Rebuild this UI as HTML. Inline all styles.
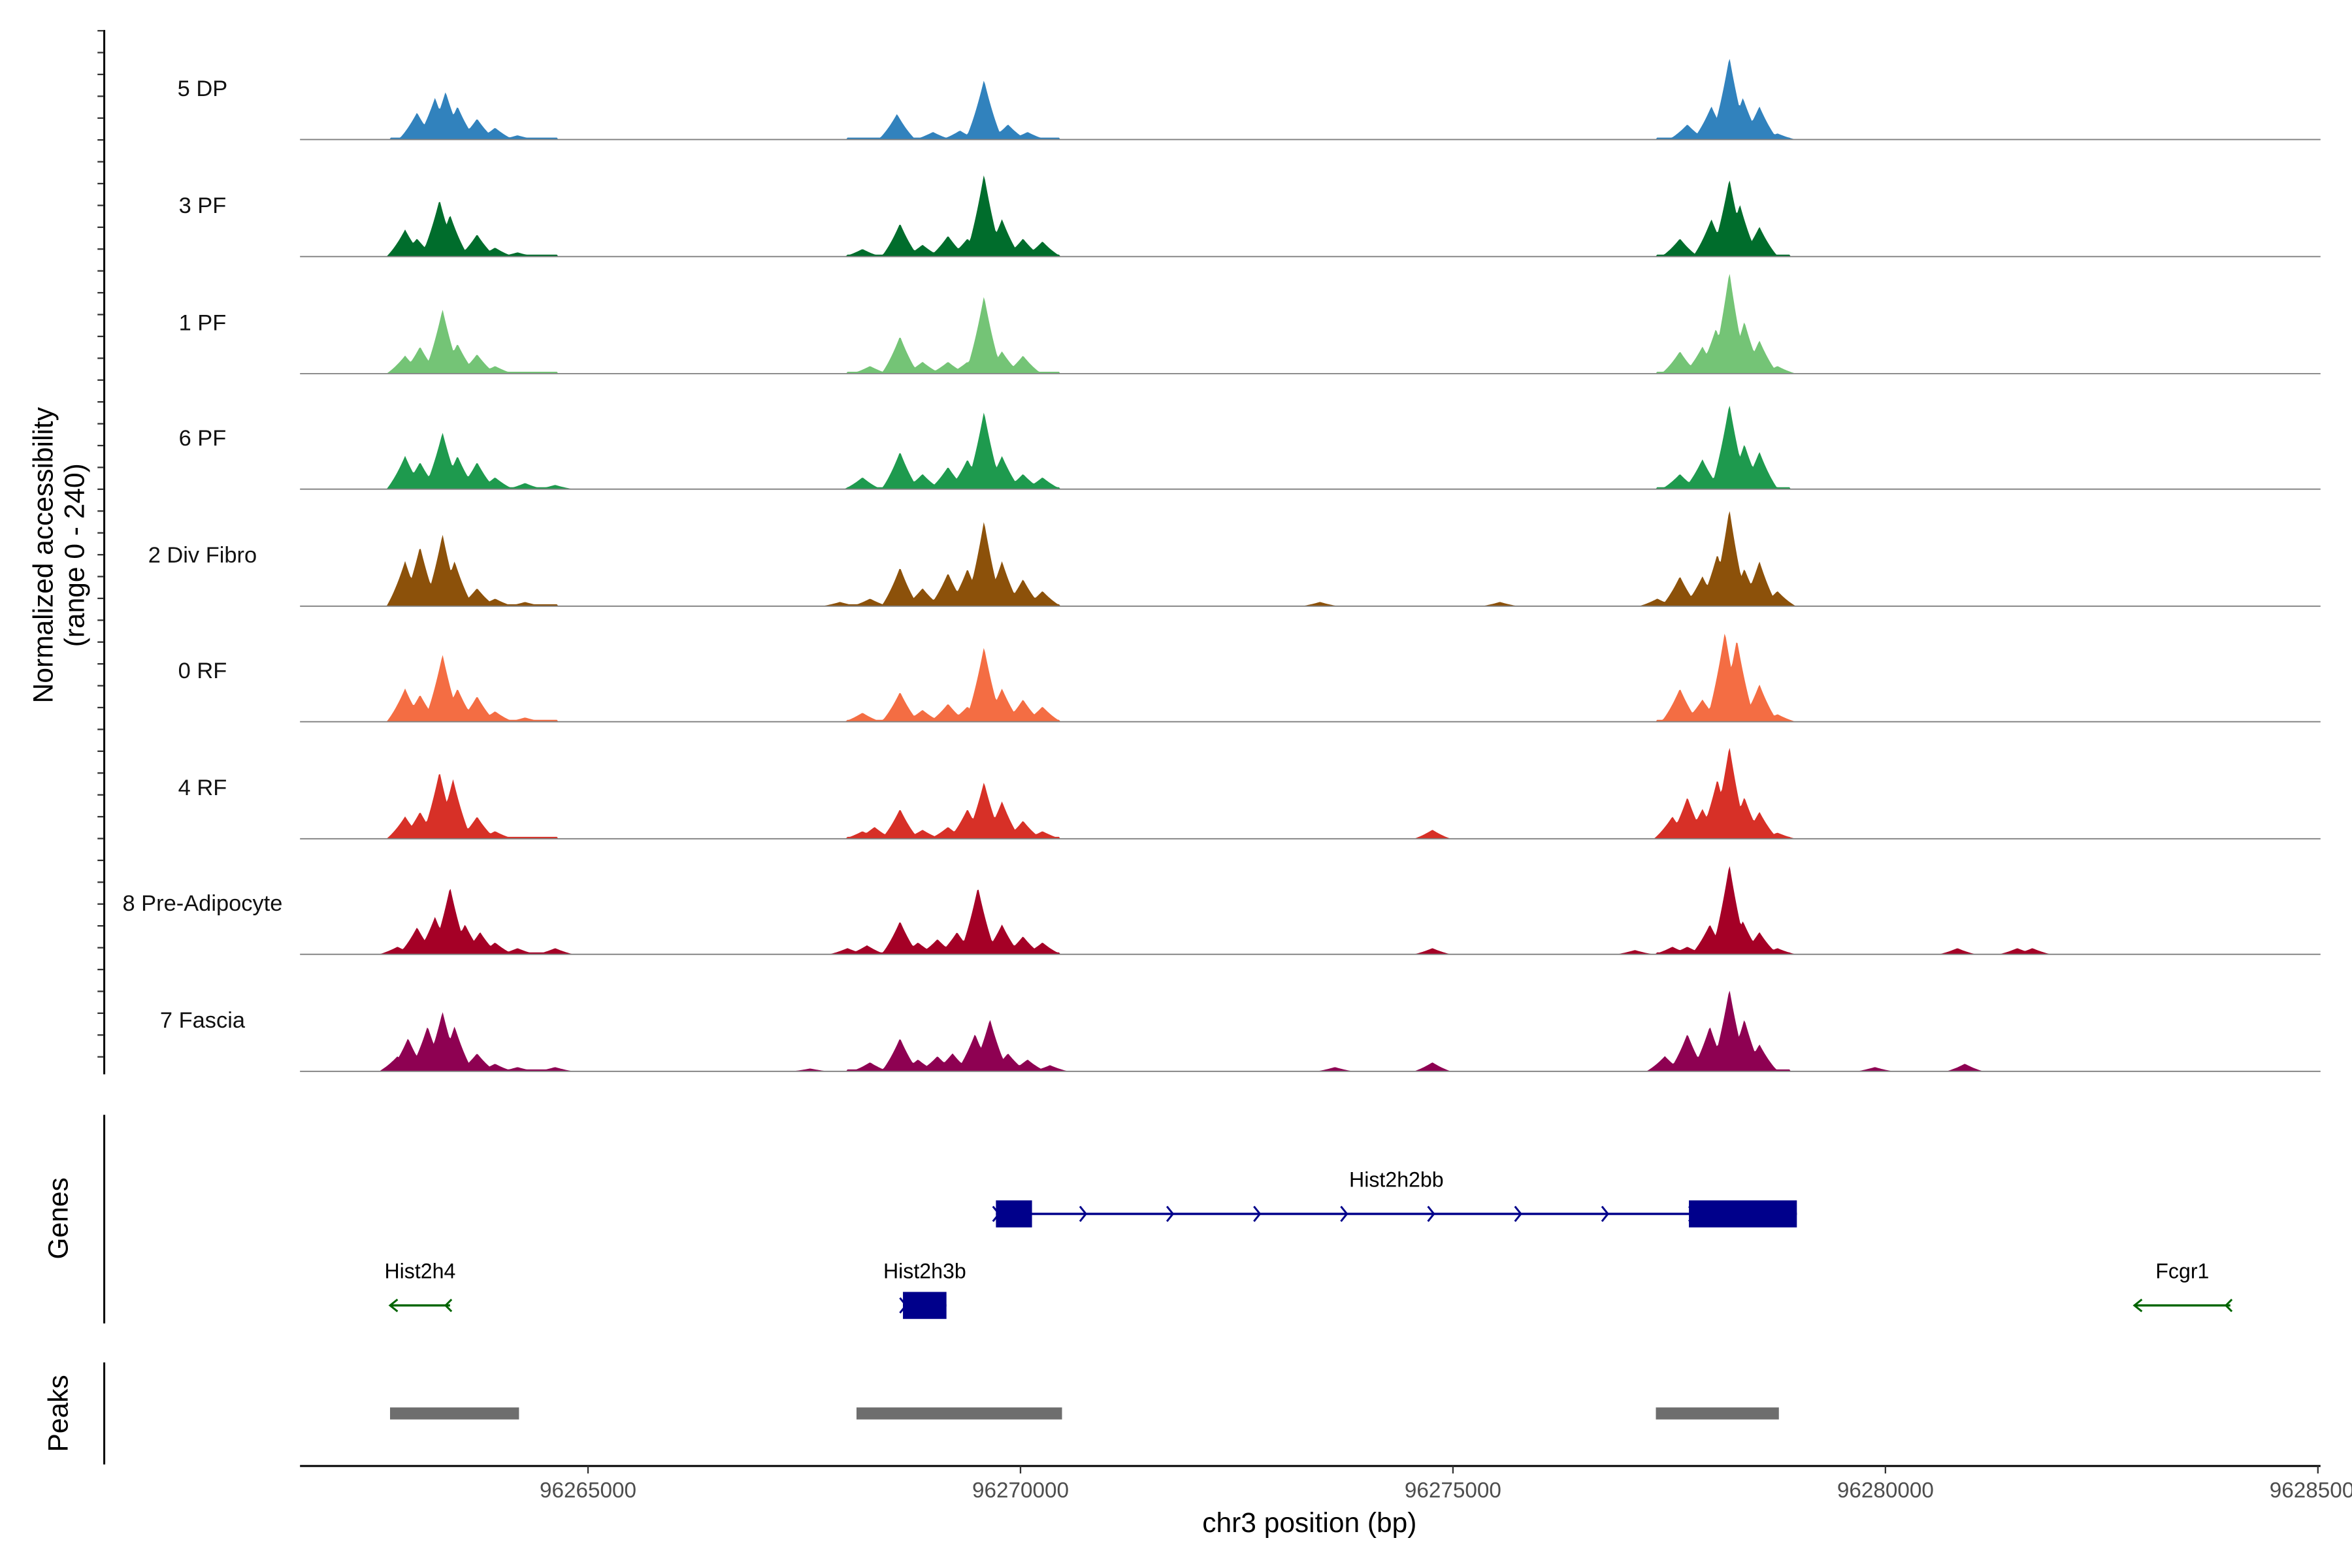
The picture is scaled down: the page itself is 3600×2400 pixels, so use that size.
<!DOCTYPE html>
<html><head><meta charset="utf-8">
<style>
html,body{margin:0;padding:0;background:#fff;}
svg{display:block;font-family:"Liberation Sans",sans-serif;}
</style></head>
<body>
<svg id="chart" width="3600" height="2400" viewBox="0 0 1568 1045" preserveAspectRatio="none" xmlns="http://www.w3.org/2000/svg">
<rect width="1568" height="1045" fill="#fff"/>
<g id="tracks"></g>
<g id="genes"></g>
<g id="peaks"></g>
<g id="axes"></g>
</svg>
<script>
// ---- data ----
const xDomain = [96261670, 96285030];
const xTicks = [96265000, 96270000, 96275000, 96280000, 96285000];
const trackNames = ["5 DP","3 PF","1 PF","6 PF","2 Div Fibro","0 RF","4 RF","8 Pre-Adipocyte","7 Fascia"];
const trackColors = ["#3182bd","#006d2c","#74c476","#1e9a4e","#8c510a","#f46d43","#d73027","#a50026","#8e0152"];
// broad low background per cluster: [start, end, height]
const clusterStarts = [96262711, 96268000, 96277350];
const clusterEnds = [96264650, 96270450, 96278900];
const clusterHeights = [4, 4, 4];
// peaks per track: [position bp, height (0-240)]
const peaks5DP = [[96263023,57],[96263231,88],[96263353,101],[96263491,70],[96263717,44],[96263925,25],[96264185,9],
 [96268572,54],[96268988,16],[96269300,19],[96269578,126],[96269855,32],[96270081,16],
 [96277710,32],[96277988,70],[96278196,174],[96278352,88],[96278543,70],[96278751,13]];
const peaks3PF = [[96262885,57],[96263023,38],[96263283,120],[96263405,88],[96263717,47],[96263925,19],[96264185,9],
 [96268173,16],[96268607,70],[96268867,25],[96269162,44],[96269387,38],[96269578,174],[96269786,79],[96270029,38],[96270254,32],
 [96277624,38],[96277988,79],[96278196,164],[96278317,110],[96278543,63]];
const peaks1PF = [[96262885,38],[96263058,57],[96263318,136],[96263491,63],[96263717,41],[96263925,16],
 [96268260,16],[96268607,79],[96268867,25],[96269162,25],[96269387,25],[96269578,164],[96269786,47],[96270029,38],
 [96277624,47],[96277884,57],[96278040,95],[96278196,215],[96278369,110],[96278543,70],[96278751,16]];
const peaks6PF = [[96262885,70],[96263058,57],[96263318,120],[96263491,70],[96263717,57],[96263925,25],[96264272,13],[96264619,9],
 [96268173,25],[96268607,79],[96268867,32],[96269162,47],[96269387,63],[96269578,164],[96269786,70],[96270029,32],[96270254,25],
 [96277624,32],[96277884,63],[96278196,180],[96278369,95],[96278543,79]];
const peaksDiv = [[96262885,95],[96263058,126],[96263318,152],[96263457,95],[96263717,38],[96263925,16],[96264272,9],
 [96267913,9],[96268260,16],[96268607,82],[96268867,38],[96269162,70],[96269387,79],[96269578,180],[96269786,95],[96270029,57],[96270254,32],
 [96273462,9],[96275543,9],[96277363,16],[96277624,63],[96277884,63],[96278057,110],[96278196,205],[96278369,79],[96278543,95],[96278751,32]];
const peaks0RF = [[96262885,70],[96263058,57],[96263318,142],[96263491,70],[96263717,54],[96263925,22],[96264272,9],
 [96268173,19],[96268607,63],[96268867,25],[96269162,38],[96269387,32],[96269578,158],[96269786,70],[96270029,47],[96270254,32],
 [96277624,70],[96277884,47],[96278144,190],[96278282,174],[96278543,79],[96278751,16]];
const peaks4RF = [[96262885,47],[96263058,57],[96263283,142],[96263439,126],[96263717,47],[96263925,16],
 [96268173,16],[96268312,25],[96268607,63],[96268867,19],[96269162,25],[96269387,63],[96269578,120],[96269786,79],[96270029,38],[96270254,16],
 [96274762,19],
 [96277537,47],[96277710,88],[96277884,63],[96278057,126],[96278196,196],[96278369,88],[96278543,57],[96278751,13]];
const peaksPre = [[96262798,16],[96263023,57],[96263231,79],[96263405,142],[96263578,63],[96263752,47],[96263925,25],[96264185,13],[96264619,13],
 [96268000,13],[96268225,19],[96268607,70],[96268815,25],[96269040,32],[96269266,47],[96269508,142],[96269786,63],[96270029,38],[96270254,25],
 [96274762,13],
 [96277103,9],[96277537,16],[96277710,16],[96277970,63],[96278196,190],[96278352,70],[96278543,47],[96278751,13],
 [96280832,13],[96281525,13],[96281699,13]];
const peaksFascia = [[96262798,32],[96262919,70],[96263145,95],[96263318,126],[96263457,95],[96263717,38],[96263925,16],[96264185,9],[96264619,9],
 [96267566,6],[96268260,19],[96268607,70],[96268815,25],[96269040,32],[96269214,38],[96269474,79],[96269647,110],[96269855,38],[96270081,25],[96270341,13],
 [96273635,9],[96274762,19],
 [96277450,32],[96277710,79],[96277970,95],[96278196,174],[96278369,110],[96278543,57],
 [96279878,9],[96280918,16]];
const trackPeaks = [peaks5DP,peaks3PF,peaks1PF,peaks6PF,peaksDiv,peaks0RF,peaks4RF,peaksPre,peaksFascia];
// genes
const geneNames = ["Hist2h2bb","Hist2h4","Hist2h3b","Fcgr1"];
const geneStarts = [96269716, 96262711, 96268641, 96282878];
const geneEnds = [96278976, 96263405, 96269144, 96283988];
const geneStrands = ["+","-","+","-"];
const geneColors = ["#00008b","#006400","#00008b","#006400"];
const geneRows = [0,1,1,1];
const exonGene = [0,0,2];
const exonStarts = [96269716, 96277728, 96268641];
const exonEnds = [96270133, 96278976, 96269144];
const peakStarts = [96262711, 96268104, 96277346];
const peakEnds = [96264202, 96270480, 96278768];

// ---- scales ----
const X0 = 200, X1 = 1547;
function xs(bp){ return X0 + (bp - xDomain[0]) / (xDomain[1] - xDomain[0]) * (X1 - X0); }
const baselines = [93,171,249,326,404,481,559,636,714];
const trackH = 76;
function ys(v, b){ return b - v / 240 * trackH; }
const NS = "http://www.w3.org/2000/svg";
function mk(tag, attrs, parent){ const e = document.createElementNS(NS, tag); for (const k in attrs) e.setAttribute(k, attrs[k]); parent.appendChild(e); return e; }

// ---- tracks ----
const gT = document.getElementById("tracks");
const halfW = 215;
trackPeaks.forEach((pk, i) => {
  const b = baselines[i];
  const g = mk("g", {}, gT);
  
  
  const lbl = mk("text", {x:135, y:b-29, "text-anchor":"middle", "font-size":15, fill:"#111"}, g);
  lbl.textContent = trackNames[i];
  
  
  let d = "M" + xs(96262600).toFixed(2) + "," + b;
  for (let p = 96262600; p <= 96284000; p += 15) {
    let v = 0.4;
    clusterStarts.forEach((s, c) => { if (p >= s && p <= clusterEnds[c]) v = Math.max(v, clusterHeights[c]); });
    for (const [pos, h] of pk) {
      const r = Math.abs(p - pos) / halfW;
      if (r < 1) v = Math.max(v, h * (1 - r) * (1 - r * 0.3));
    }
    d += "L" + xs(p).toFixed(2) + "," + ys(v, b).toFixed(2);
  }
  d += "L" + xs(96284000).toFixed(2) + "," + b + "Z";
  const area = mk("path", {d:d, fill:trackColors[i], stroke:"none"}, g);
  
  
  const bl = mk("line", {x1:X0, x2:X1, y1:b, y2:b, stroke:"#7f7f7f", "stroke-width":0.8}, g);
  
  
});

// ---- genes ----
const gG = document.getElementById("genes");
const rowY = [809, 870];
geneNames.forEach((n, i) => {
  const y = rowY[geneRows[i]];
  const xa = xs(geneStarts[i]), xb = xs(geneEnds[i]);
  const g = mk("g", {}, gG);
  
  
  mk("line", {x1:xa, x2:xb, y1:y, y2:y, stroke:geneColors[i], "stroke-width":1.5}, g);
  const step = 58;
  if (geneStrands[i] === "+") {
    for (let x = xa; x < xb - 20; x += step) mk("path", {d:`M${x-2},${y-5}L${x+2},${y}L${x-2},${y+5}`, fill:"none", stroke:geneColors[i], "stroke-width":1.3}, g);
  } else {
    mk("path", {d:`M${xa+5},${y-4}L${xa},${y}L${xa+5},${y+4}`, fill:"none", stroke:geneColors[i], "stroke-width":1.3}, g);
    mk("path", {d:`M${xb+1},${y-4}L${xb-3},${y}L${xb+1},${y+4}`, fill:"none", stroke:geneColors[i], "stroke-width":1.3}, g);
  }
  const t = mk("text", {x:(xa+xb)/2, y:y-18, "text-anchor":"middle", "font-size":14, fill:"#000"}, g);
  t.textContent = n;
  
  
});
exonStarts.forEach((s, i) => {
  const y = rowY[geneRows[exonGene[i]]];
  const r = mk("rect", {x:xs(s), y:y-9, width:xs(exonEnds[i])-xs(s), height:18, fill:"#00008b"}, gG);
  
  
});

// ---- peaks ----
const gP = document.getElementById("peaks");
peakStarts.forEach((s, i) => {
  const r = mk("rect", {x:xs(s), y:938, width:xs(peakEnds[i])-xs(s), height:8, fill:"#6e6e6e"}, gP);
  
  
});

// ---- axes ----
const gA = document.getElementById("axes");
const ya = mk("line", {x1:69.5, x2:69.5, y1:20, y2:716, stroke:"#000", "stroke-width":1.3}, gA);


for (let y = 20.5; y <= 716; y += 14.55) mk("line", {x1:65, x2:69, y1:y, y2:y, stroke:"#333", "stroke-width":1}, gA);
const yt = mk("text", {transform:"translate(35,370) rotate(-90)", "text-anchor":"middle", "font-size":18.5, fill:"#000"}, gA);
yt.textContent = "Normalized accessibility";


const yt2 = mk("text", {transform:"translate(56,370) rotate(-90)", "text-anchor":"middle", "font-size":18.5, fill:"#000"}, gA);
yt2.textContent = "(range 0 - 240)";


const gl = mk("line", {x1:69.5, x2:69.5, y1:743, y2:882, stroke:"#000", "stroke-width":1.3}, gA);


const gt = mk("text", {transform:"translate(45,812) rotate(-90)", "text-anchor":"middle", "font-size":18.5, fill:"#000"}, gA);
gt.textContent = "Genes";


const pl = mk("line", {x1:69.5, x2:69.5, y1:908, y2:976, stroke:"#000", "stroke-width":1.3}, gA);


const pt = mk("text", {transform:"translate(45,942) rotate(-90)", "text-anchor":"middle", "font-size":18.5, fill:"#000"}, gA);
pt.textContent = "Peaks";


const xa = mk("line", {x1:X0, x2:X1, y1:977, y2:977, stroke:"#000", "stroke-width":1.3}, gA);


xTicks.forEach(t => {
  const x = xs(t);
  mk("line", {x1:x, x2:x, y1:977, y2:982, stroke:"#333", "stroke-width":1}, gA);
  const tx = mk("text", {x:x, y:998, "text-anchor":"middle", "font-size":14.5, fill:"#4d4d4d"}, gA);
  tx.textContent = t;
  
  
});
const xt = mk("text", {x:873, y:1021, "text-anchor":"middle", "font-size":18.5, fill:"#000"}, gA);
xt.textContent = "chr3 position (bp)";


</script>
</body></html>
